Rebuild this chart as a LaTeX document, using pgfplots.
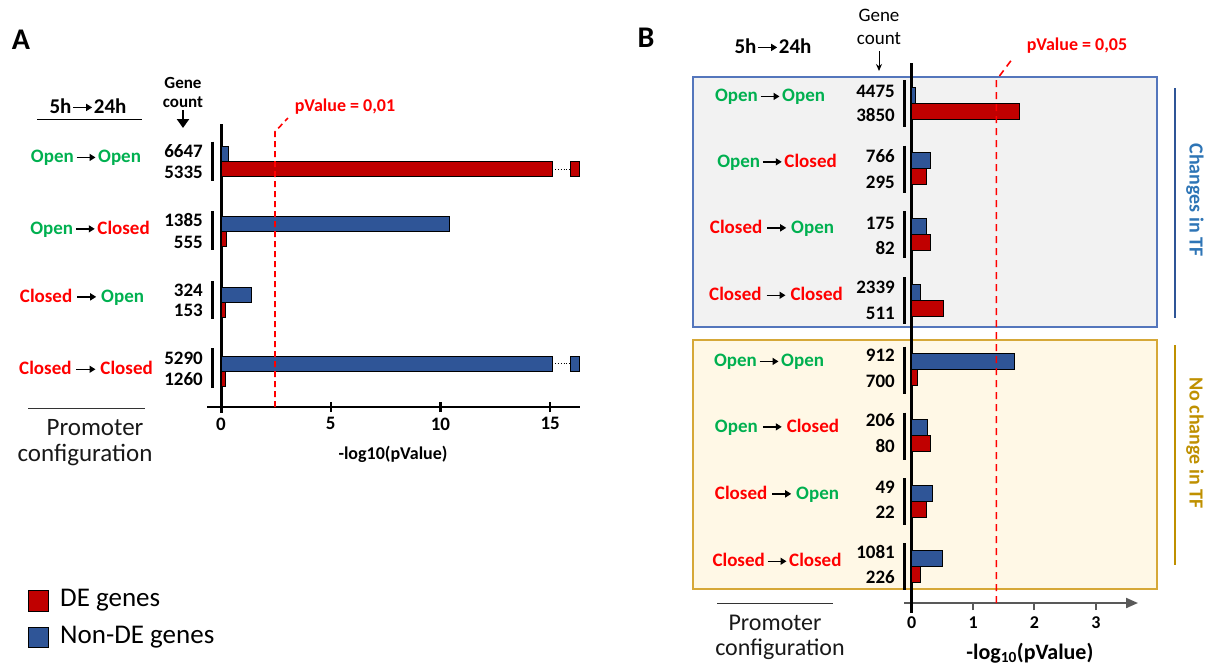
\documentclass[border=0pt]{standalone}
\usepackage{pgfplots}
\pgfplotsset{compat=1.18}
\usetikzlibrary{arrows.meta}
\usepackage{fontspec}
\setmainfont{Carlito}
\newcommand{\fs}[1]{\fontsize{#1}{#1}\selectfont}
\definecolor{barblue}{RGB}{47,85,151}
\definecolor{barred}{RGB}{192,0,0}
\definecolor{tgreen}{RGB}{0,176,80}
\definecolor{tred}{RGB}{255,0,0}
\definecolor{boxgray}{RGB}{242,242,242}
\definecolor{boxblue}{RGB}{84,118,188}
\definecolor{boxcream}{RGB}{255,248,230}
\definecolor{boxgold}{RGB}{214,168,56}
\definecolor{tfblue}{RGB}{46,117,182}
\definecolor{tfline}{RGB}{47,85,151}
\definecolor{gold}{RGB}{191,144,0}
\definecolor{axgray}{RGB}{89,89,89}
\newcommand{\ar}{\tikz[baseline=-0.28em]\draw[draw=black,line width=1.4pt,-{Triangle[length=6pt,width=7pt]}] (0pt,0pt)--(19pt,0pt);}
\newcommand{\Op}{\textcolor{tgreen}{Open}}
\newcommand{\Cl}{\textcolor{tred}{Closed}}
\begin{document}
\begin{tikzpicture}
\begin{scope}[x=1pt,y=-1pt]
\useasboundingbox (0,0) rectangle (1215,662);
\draw[boxblue, line width=1.5pt, fill=boxgray] (693,77) rectangle (1157,327);
\draw[boxgold, line width=1.5pt, fill=boxcream] (693,340) rectangle (1157,589);
\end{scope}

% ---------------- Panel A ----------------
\begin{axis}[
  at={(207pt,-407pt)}, anchor=south west,
  scale only axis, width=373pt, height=283pt,
  xmin=-0.64, xmax=16.36, ymin=-407, ymax=-124,
  clip=false,
  axis x line=bottom, axis y line=none,
  x axis line style={line width=2.5pt, -},
  xtick={0,5,10,15}, ytick=\empty,
  major tick length=10pt, tick align=center,
  tick style={black, line width=2.5pt},
  /pgf/number format/assume math mode=true,
  xticklabel style={font=\fs{19}\bfseries, yshift=-2pt},
  xlabel={-log10(pValue)},
  xlabel style={at={(axis description cs:0.4987,-0.166)}, anchor=center, font=\fs{18}\bfseries},
]
\draw[line width=3pt] (axis cs:0,-124) -- (axis cs:0,-413);
\addplot[xbar, bar width=15, bar shift=0pt, fill=barblue, draw=black, line width=0.8pt]
  coordinates {(0.35,-154) (10.43,-223.5) (1.4,-295) (15.1,-363.5)};
\addplot[xbar, bar width=15, bar shift=0pt, fill=barred, draw=black, line width=0.8pt]
  coordinates {(15.1,-169) (0.25,-238.5) (0.2,-310) (0.22,-378.5)};
% broken-bar ends
\addplot[black, dotted, line width=0.8pt] coordinates {(15.1,-169) (15.9,-169)};
\addplot[fill=barred, draw=black, line width=0.8pt]
  coordinates {(15.9,-161.5) (16.35,-161.5) (16.35,-176.5) (15.9,-176.5)} -- cycle;
\addplot[black, dotted, line width=0.8pt] coordinates {(15.1,-363.5) (15.9,-363.5)};
\addplot[fill=barblue, draw=black, line width=0.8pt]
  coordinates {(15.9,-356) (16.35,-356) (16.35,-371) (15.9,-371)} -- cycle;
% threshold
\addplot[tred, line width=1.6pt, dash pattern=on 6pt off 4pt]
  coordinates {(2.46,-407) (2.46,-131.7) (3.05,-118)};
\end{axis}

% ---------------- Panel B ----------------
\begin{axis}[
  at={(904pt,-603pt)}, anchor=south west,
  scale only axis, width=234pt, height=540pt,
  xmin=-0.125, xmax=3.686, ymin=-603, ymax=-63,
  clip=false,
  axis x line=bottom, axis y line=none,
  x axis line style={line width=2pt, axgray, -{Triangle[length=12pt,width=10pt]}},
  xtick={0,1,2,3}, ytick=\empty,
  major tick length=7pt, tick align=outside,
  tick style={axgray, line width=2pt},
  /pgf/number format/assume math mode=true,
  xticklabel style={font=\fs{18}\bfseries, yshift=-3pt},
  xlabel={-log\textsubscript{10}(pValue)},
  xlabel style={at={(axis description cs:0.538,-0.0926)}, anchor=center, font=\fs{22}\bfseries},
]
\draw[line width=3pt] (axis cs:0,-63) -- (axis cs:0,-613);
\addplot[xbar, bar width=16, bar shift=0pt, fill=barblue, draw=black, line width=0.8pt]
  coordinates {(0.065,-95) (0.31,-160.5) (0.24,-226) (0.135,-292) (1.68,-361.5) (0.25,-427.5) (0.34,-493) (0.50,-558)};
\addplot[xbar, bar width=16, bar shift=0pt, fill=barred, draw=black, line width=0.8pt]
  coordinates {(1.76,-111) (0.24,-176.5) (0.31,-242) (0.51,-308) (0.10,-377.5) (0.30,-443.5) (0.24,-509) (0.135,-574)};
\addplot[tred, line width=1.6pt, dash pattern=on 7pt off 5pt]
  coordinates {(1.38,-603) (1.38,-80) (1.65,-58)};
\end{axis}

\begin{scope}[x=1pt,y=-1pt]
% panel letters
\node[font=\fs{30}\bfseries] at (21,40) {A};
\node[font=\fs{30}\bfseries] at (646,38) {B};
% ---- A headers
\node[font=\fs{21}\bfseries] at (88,106) {5h\hspace{1pt}\ar\hspace{1pt}24h};
\draw[line width=1pt] (37,119) -- (142,119);
\node[font=\fs{17}\bfseries] at (183,83) {Gene};
\node[font=\fs{17}\bfseries] at (183,102) {count};
\draw[line width=2.5pt,-{Triangle[length=9pt,width=12pt]}] (183,110) -- (183,128);
\node[font=\fs{18}\bfseries, text=tred] at (345,107) {pValue = 0,01};
% A row labels
\node[font=\fs{19}\bfseries] at (86,158) {\Op\hspace{2pt}\ar\hspace{2pt}\Op};
\node[font=\fs{19}\bfseries] at (90,229) {\Op\hspace{2pt}\ar\hspace{2pt}\Cl};
\node[font=\fs{19}\bfseries] at (82,297) {\Cl{} \ar{} \Op};
\node[font=\fs{19}\bfseries] at (86,368) {\Cl{} \ar{} \Cl};
% A gene counts
\begin{scope}[every node/.style={font=\fs{19}\bfseries, anchor=east, inner sep=0pt}]
\node at (203,151) {6647}; \node at (203,172) {5335};
\node at (203,220) {1385}; \node at (203,242) {555};
\node at (203,290) {324};  \node at (203,310) {153};
\node at (203,358) {5290}; \node at (203,379) {1260};
\end{scope}
\foreach \a/\b in {141.5/181, 211/250, 281/319, 348/388}
  \draw[line width=3pt] (212.5,\a) -- (212.5,\b);
% A bottom
\draw[line width=0.8pt, black!80] (28,408) -- (145,408);
\node[font=\fs{25}, text=black!90] at (95,428) {Promoter};
\node[font=\fs{25}, text=black!90] at (85,455) {configuration};
% legend
\draw[fill=barred, draw=black, line width=0.8pt] (28,590) rectangle (48,611);
\node[font=\fs{27}, anchor=west, inner sep=0pt] at (60,600) {DE genes};
\draw[fill=barblue, draw=black, line width=0.8pt] (28,627) rectangle (48,647);
\node[font=\fs{27}, anchor=west, inner sep=0pt] at (60,637) {Non-DE genes};
% ---- B headers
\node[font=\fs{21}\bfseries] at (773,46) {5h\hspace{1pt}\ar\hspace{1pt}24h};
\node[font=\fs{19}] at (879,15) {Gene};
\node[font=\fs{19}] at (879,39) {count};
\draw[line width=1pt,-{Stealth[length=7pt,width=6pt]}] (879,51) -- (879,71);
\node[font=\fs{18}\bfseries, text=tred] at (1077,46) {pValue = 0,05};
% B row labels
\node[font=\fs{19}\bfseries] at (770,97) {\Op\hspace{2pt}\ar\hspace{2pt}\Op};
\node[font=\fs{19}\bfseries] at (777,162) {\Op\hspace{2pt}\ar\hspace{2pt}\Cl};
\node[font=\fs{19}\bfseries] at (772,228) {\Cl{} \ar{} \Op};
\node[font=\fs{19}\bfseries] at (776,294) {\Cl{} \ar{} \Cl};
\node[font=\fs{19}\bfseries] at (769,362) {\Op\hspace{2pt}\ar\hspace{2pt}\Op};
\node[font=\fs{19}\bfseries] at (777,427) {\Op{} \ar{} \Cl};
\node[font=\fs{19}\bfseries] at (777,494) {\Cl{} \ar{} \Op};
\node[font=\fs{19}\bfseries] at (777,560) {\Cl\hspace{2pt}\ar\hspace{2pt}\Cl};
% B gene counts
\begin{scope}[every node/.style={font=\fs{19}\bfseries, anchor=east, inner sep=0pt}]
\node at (895,91) {4475};  \node at (895,115) {3850};
\node at (895,156) {766};  \node at (895,182) {295};
\node at (895,223) {175};  \node at (895,248) {82};
\node at (895,287) {2339}; \node at (895,313) {511};
\node at (895,355) {912};  \node at (895,381) {700};
\node at (895,420) {206};  \node at (895,446) {80};
\node at (895,487) {49};   \node at (895,512) {22};
\node at (895,552) {1081}; \node at (895,577) {226};
\end{scope}
\foreach \g in {103,168.5,234,300,369.5,435.5,501,566}
  \draw[line width=3pt] (904,\g-23) -- (904,\g+24);
% B side labels
\draw[tfline, line width=2.5pt] (1175,88) -- (1175,318);
\node[font=\fs{20}\bfseries, text=tfblue, rotate=-90] at (1195,200) {Changes in TF};
\draw[gold, line width=2.5pt] (1175,345) -- (1175,565);
\node[font=\fs{20}\bfseries, text=gold, rotate=-90] at (1195,443) {No change in TF};
% B bottom
\draw[line width=0.8pt, black!80] (717,603) -- (833,603);
\node[font=\fs{24}, text=black!90] at (775,623) {Promoter};
\node[font=\fs{24}, text=black!90] at (780,649) {configuration};
\end{scope}
\end{tikzpicture}
\end{document}
